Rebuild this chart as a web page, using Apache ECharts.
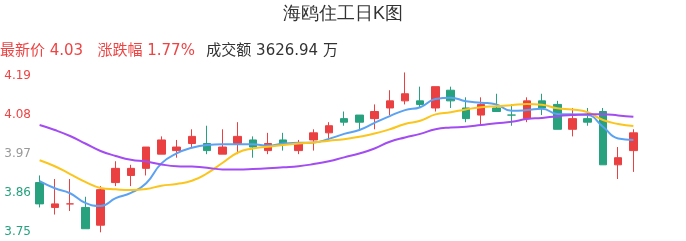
<!DOCTYPE html>
<html>
<head>
<meta charset="utf-8">
<script src="https://cdn.jsdelivr.net/npm/echarts@6/dist/echarts.min.js"></script>
<style>html,body{margin:0;padding:0;background:#fff}#c{width:686px;height:241px}</style>
</head>
<body>
<div id="c"></div>
<script>
const categories = Array.from({length: 40}, (_, i) => 'D' + (i + 1));
// [open, close, low, high]
const kData = [
  [3.89,3.83,3.82,3.91],[3.82,3.83,3.80,3.90],[3.83,3.83,3.81,3.90],[3.82,3.76,3.76,3.85],
  [3.77,3.87,3.75,3.88],[3.89,3.93,3.88,3.95],[3.91,3.93,3.88,3.94],[3.93,3.99,3.91,3.99],
  [3.97,4.01,3.97,4.02],[3.98,3.99,3.96,4.01],[4.00,4.02,3.99,4.04],[4.00,3.98,3.97,4.05],
  [3.97,3.99,3.97,4.04],[4.00,4.02,3.97,4.06],[4.01,3.99,3.96,4.02],[3.98,4.00,3.97,4.03],
  [4.01,4.00,3.98,4.03],[3.98,4.00,3.97,4.01],[4.01,4.03,3.98,4.04],[4.03,4.05,4.01,4.06],
  [4.07,4.06,4.05,4.09],[4.08,4.06,4.04,4.08],[4.07,4.09,4.04,4.11],[4.10,4.12,4.08,4.15],
  [4.12,4.14,4.11,4.20],[4.12,4.11,4.10,4.16],[4.10,4.16,4.09,4.16],[4.15,4.12,4.10,4.16],
  [4.10,4.07,4.06,4.13],[4.08,4.11,4.05,4.13],[4.10,4.09,4.09,4.14],[4.08,4.08,4.05,4.11],
  [4.07,4.12,4.06,4.13],[4.12,4.10,4.08,4.14],[4.11,4.04,4.04,4.12],[4.04,4.07,4.02,4.10],
  [4.07,4.06,4.05,4.10],[4.09,3.94,3.94,4.10],[3.94,3.96,3.90,3.99],[3.98,4.03,3.92,4.04]
];
const ma5 = [3.894,3.874,3.860,3.833,3.824,3.846,3.861,3.888,3.944,3.972,3.988,3.996,3.998,3.998,3.998,3.994,4.000,4.002,4.003,4.013,
  4.027,4.038,4.058,4.077,4.094,4.102,4.125,4.129,4.119,4.115,4.110,4.092,4.094,4.098,4.083,4.082,4.080,4.047,4.014,4.010];
const ma10 = [3.953,3.936,3.914,3.892,3.875,3.871,3.869,3.872,3.881,3.886,3.895,3.916,3.945,3.974,3.986,3.991,3.996,4.000,4.003,4.008,
  4.012,4.019,4.028,4.040,4.055,4.064,4.082,4.088,4.096,4.102,4.105,4.108,4.111,4.109,4.099,4.096,4.088,4.066,4.055,4.049];
const ma20 = [4.052,4.038,4.021,4.000,3.979,3.965,3.954,3.949,3.941,3.936,3.935,3.932,3.927,3.927,3.928,3.930,3.933,3.936,3.942,3.950,
  3.961,3.972,3.986,4.005,4.017,4.027,4.040,4.045,4.047,4.052,4.057,4.061,4.069,4.072,4.077,4.080,4.082,4.082,4.079,4.075];
const yTicks = [3.75, 3.86, 3.97, 4.08, 4.19];
const prevClose = 3.97;

const FONT = "'DejaVu Sans', 'Noto Sans CJK SC', sans-serif";
const UP = '#eb4042', DOWN = '#27a17e';
const chart = echarts.init(document.getElementById('c'));
chart.setOption({
  animation: false,
  title: [{
    text: '海鸥住工日K图', left: 'center', top: 0,
    textStyle: {fontSize: 18, fontWeight: 'normal', color: '#333'}
  }, {
    text: '{r|最新价 4.03   涨跌幅 1.77%}  {d|成交额 3626.94 万}', left: -5, top: 37,
    textStyle: {fontWeight: 'normal', fontFamily: FONT, rich: {
      r: {fontSize: 15, fontWeight: 'normal', fontFamily: FONT, color: '#ee4444'},
      d: {fontSize: 15, fontWeight: 'normal', fontFamily: FONT, color: '#333'}}}
  }],
  grid: {left: 32, right: 45, top: 76, bottom: 8.7},
  xAxis: {type: 'category', data: categories, boundaryGap: true,
    axisLine: {show: false}, axisTick: {show: false}, axisLabel: {show: false}, splitLine: {show: false}},
  yAxis: {type: 'value', min: 3.75, max: 4.19, scale: true,
    axisLine: {show: false}, axisTick: {show: false}, splitLine: {show: false},
    axisLabel: {customValues: yTicks, fontSize: 12, fontFamily: FONT, margin: 1,
      formatter: v => v.toFixed(2),
      color: v => v > prevClose + 0.005 ? '#ee4444' : (v < prevClose - 0.005 ? '#27a17e' : '#999')}},
  series: [{
    type: 'candlestick', data: kData, barWidth: 8,
    itemStyle: {color: UP, color0: DOWN, borderColor: UP, borderColor0: DOWN, borderWidth: 1}
  }, {
    type: 'line', data: ma5, smooth: true, symbol: 'none', lineStyle: {width: 2, color: '#5ba2f2'}
  }, {
    type: 'line', data: ma10, smooth: true, symbol: 'none', lineStyle: {width: 2, color: '#fbc51c'}
  }, {
    type: 'line', data: ma20, smooth: true, symbol: 'none', lineStyle: {width: 2, color: '#a24cf2'}
  }]
});
</script>
</body>
</html>
